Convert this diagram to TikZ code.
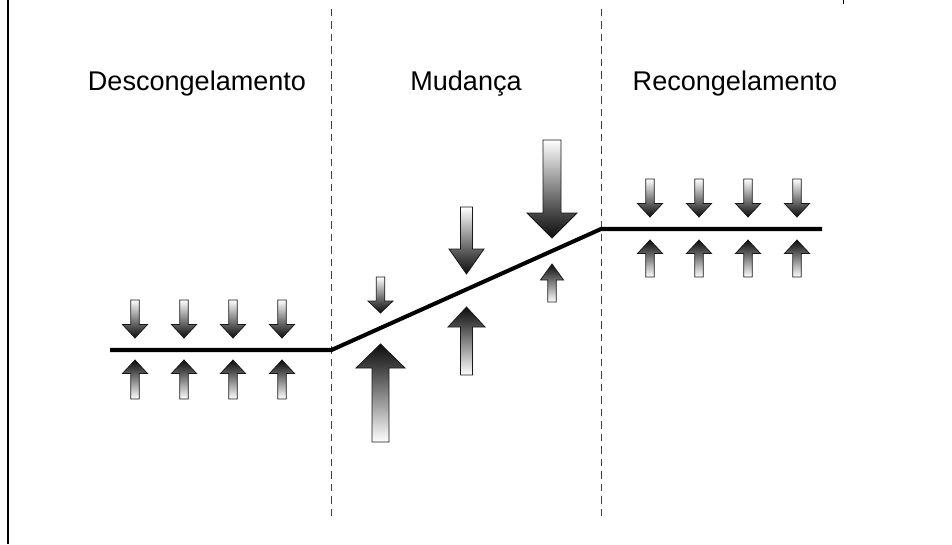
\documentclass[tikz,border=0pt]{standalone}
\usepackage{fontspec}
\setmainfont{Liberation Sans}

% shading of the force arrows: dark at the tip, white at the tail
\pgfdeclareverticalshading{forceshade}{100bp}{color(0bp)=(black!95); color(25bp)=(black!95); color(38bp)=(black!72); color(75bp)=(white); color(100bp)=(white)}

% \forcearrow[opts]{x}{tail}{head base}{tip}{shaft width}{head width}
\newcommand{\forcearrow}[7][]{%
  \shadedraw[force, #1] ({#2-#6/2}, #3) -- ({#2-#6/2}, #4) -- ({#2-#7/2}, #4) -- (#2, #5)
    -- ({#2+#7/2}, #4) -- ({#2+#6/2}, #4) -- ({#2+#6/2}, #3) -- cycle;}

\begin{document}
\begin{tikzpicture}[x = 0.02cm, y = -0.02cm,
    force/.style = {draw = black!90, line width = 0.45pt, shading = forceshade},
    up/.style = {shading angle = 180},
    phase/.style = {font = \fontsize{15.4}{18}\selectfont, anchor = base},
    divider/.style = {draw = black!75, line width = 0.5pt, dash pattern = on 0.15cm off 0.1cm}]

            \useasboundingbox (0, 0) rectangle (952, 544);

            % frame remains
            \draw[line width = 1.5pt] (8, 0) -- (8, 544);
            \draw[line width = 0.5pt] (843, 0) -- (843, 4);

            % phase borders
            \coordinate (d1t) at (331.5, 9);
            \coordinate (d1b) at (331.5, 520);
            \coordinate (d2t) at (601, 9);
            \coordinate (d2b) at (601, 520);
            \draw[divider] (d1t) -- (d1b);
            \draw[divider] (d2t) -- (d2b);

            % phase names
            \node (descong) at (197, 91) [phase] {Descongelamento};
            \node (mudanca) at (466, 91) [phase] {Mudança};
            \node (recong) at (735, 91) [phase] {Recongelamento};

            % level line
            \coordinate (p0) at (110, 350);
            \coordinate (p1) at (331.5, 350);
            \coordinate (p2) at (601, 229);
            \coordinate (p3) at (822, 229);
            \draw[line width = 2.3pt] (p0) -- (p1) -- (p2) -- (p3);

            % unfreezing: balanced forces
            \forcearrow{135}{300}{324.5}{338}{8.5}{25}
            \forcearrow{184}{300}{324.5}{338}{8.5}{25}
            \forcearrow{233}{300}{324.5}{338}{8.5}{25}
            \forcearrow{282}{300}{324.5}{338}{8.5}{25}
            \forcearrow[up]{135}{399}{373.5}{360}{8.5}{25}
            \forcearrow[up]{184}{399}{373.5}{360}{8.5}{25}
            \forcearrow[up]{233}{399}{373.5}{360}{8.5}{25}
            \forcearrow[up]{282}{399}{373.5}{360}{8.5}{25}

            % change: unbalanced forces
            \forcearrow{380.5}{277}{301}{313}{8.5}{25}
            \forcearrow[up]{380.5}{442}{368}{344}{17}{49}
            \forcearrow{466.5}{207}{249}{274}{12}{35}
            \forcearrow[up]{466.5}{375}{327}{307}{12}{37}
            \forcearrow{552}{140}{213}{238}{18}{50}
            \forcearrow[up]{552}{302}{280}{264}{8.5}{23}

            % refreezing: balanced forces
            \forcearrow{650}{179}{203.5}{217}{8.5}{25}
            \forcearrow{699}{179}{203.5}{217}{8.5}{25}
            \forcearrow{748}{179}{203.5}{217}{8.5}{25}
            \forcearrow{797}{179}{203.5}{217}{8.5}{25}
            \forcearrow[up]{650}{277}{253.5}{240}{8.5}{25}
            \forcearrow[up]{699}{277}{253.5}{240}{8.5}{25}
            \forcearrow[up]{748}{277}{253.5}{240}{8.5}{25}
            \forcearrow[up]{797}{277}{253.5}{240}{8.5}{25}
        \end{tikzpicture}
\end{document}
